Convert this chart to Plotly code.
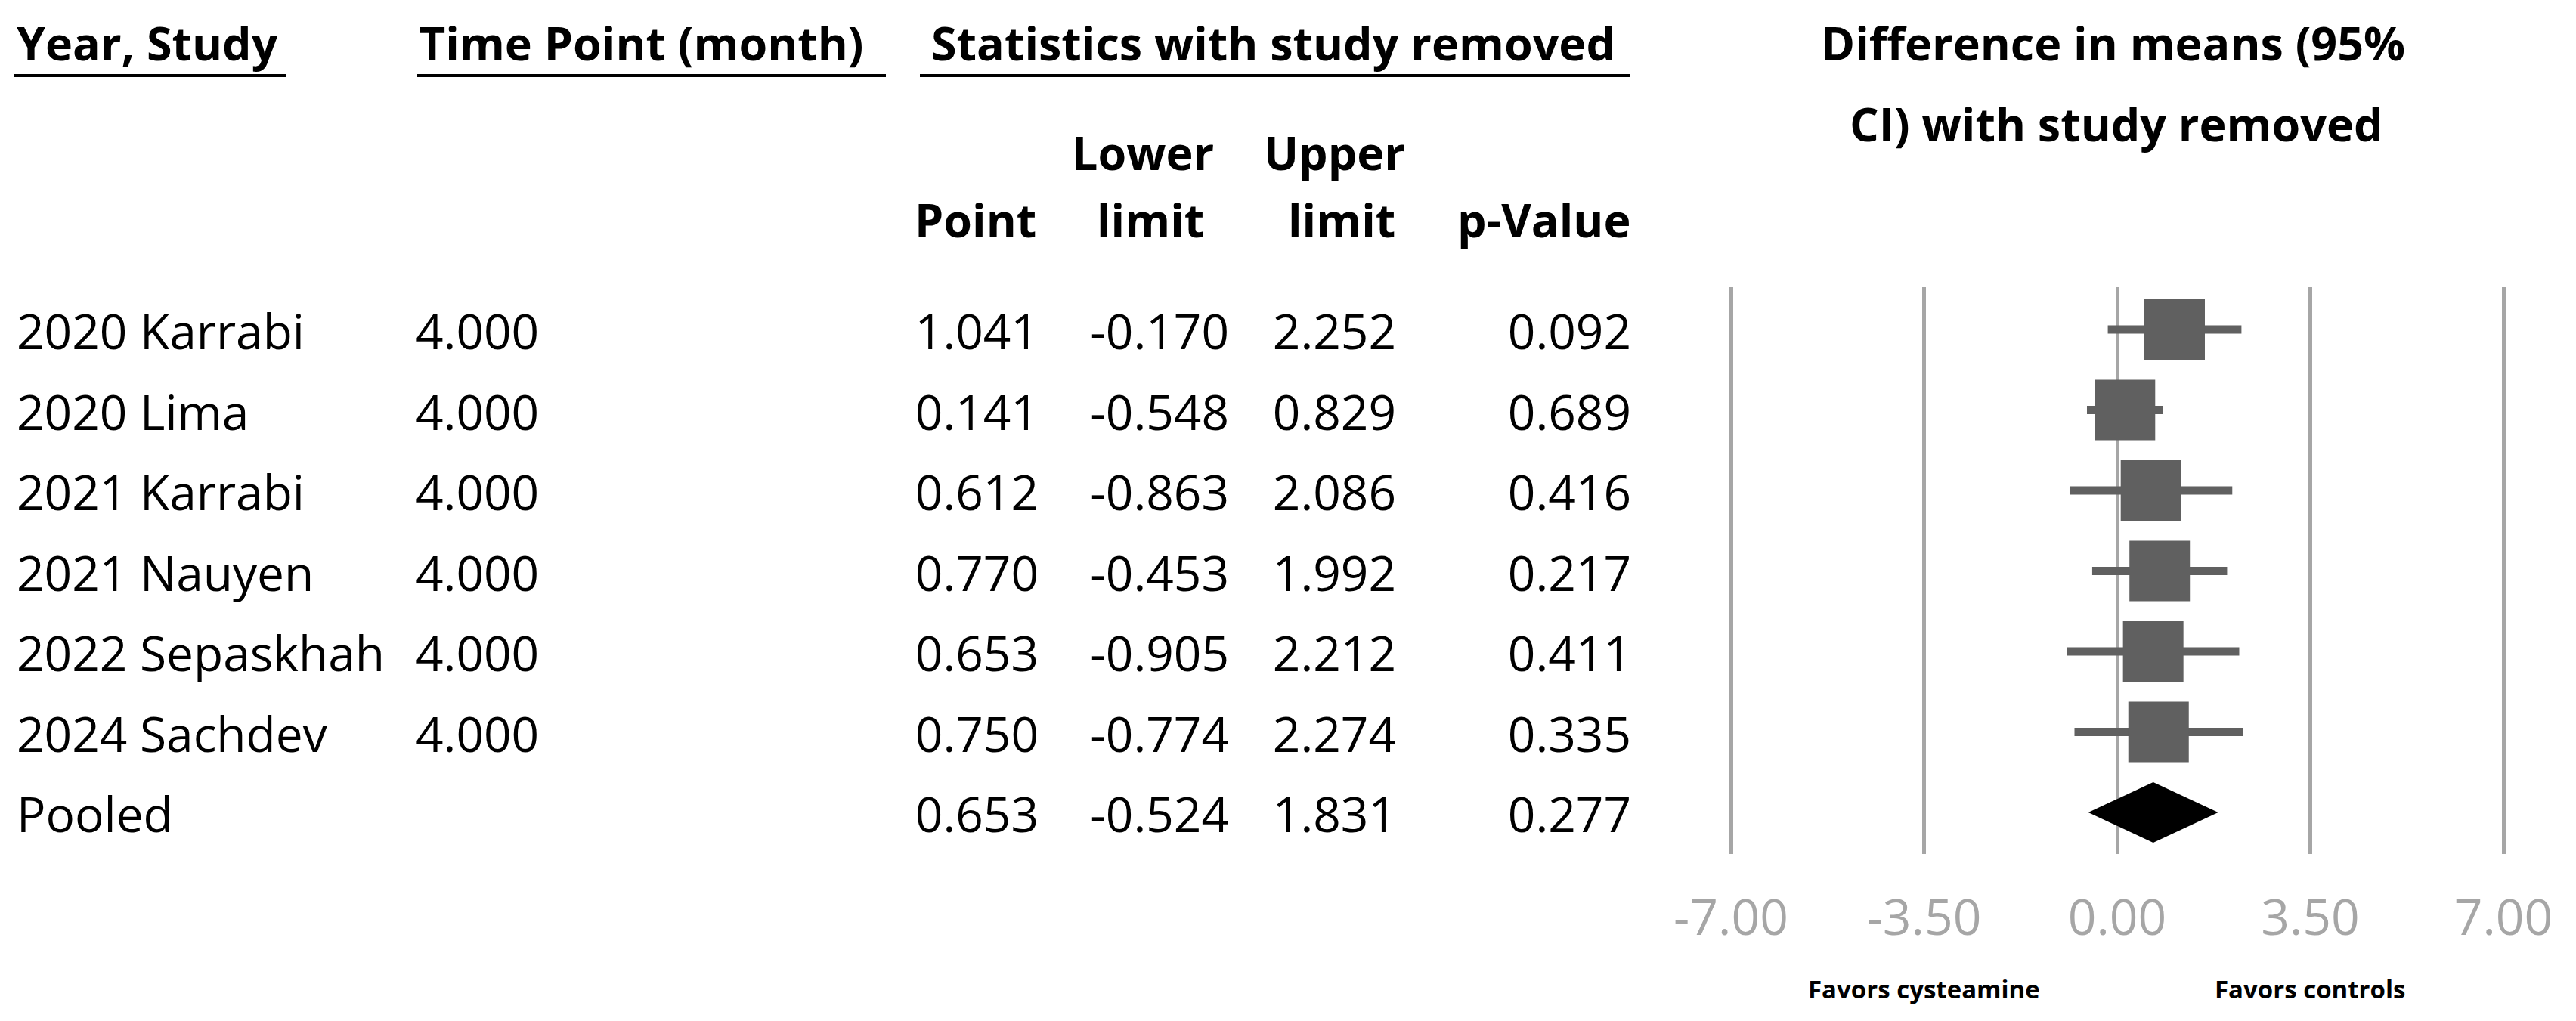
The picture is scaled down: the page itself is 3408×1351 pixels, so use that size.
import plotly.graph_objects as go

# ---------------- data ----------------
studies = ["2020 Karrabi", "2020 Lima", "2021 Karrabi", "2021 Nauyen",
           "2022 Sepaskhah", "2024 Sachdev", "Pooled"]
time_points = ["4.000", "4.000", "4.000", "4.000", "4.000", "4.000", ""]
point = [1.041, 0.141, 0.612, 0.770, 0.653, 0.750, 0.653]
lower = [-0.170, -0.548, -0.863, -0.453, -0.905, -0.774, -0.524]
upper = [2.252, 0.829, 2.086, 1.992, 2.212, 2.274, 1.831]
p_values = [0.092, 0.689, 0.416, 0.217, 0.411, 0.335, 0.277]
tick_vals = [-7.0, -3.5, 0.0, 3.5, 7.0]
tick_labels = ["-7.00", "-3.50", "0.00", "3.50", "7.00"]

# ---------------- layout geometry (pixels) ----------------
W, H = 3408, 1351
FONT = "Open Sans"
BODY = 64
HEAD = 61
GRID_C = "#a6a6a6"
BOX_C = "#606060"

def px_x(v):
    return v / W

def px_y(v):
    return 1 - v / H

n = len(studies)
rows = list(range(n))
study_rows = rows[:-1]
pooled_row = rows[-1]

row0_px, row_step = 436.0, 106.5
top_px, bot_px = 380.0, 1130.0
y_range = [(bot_px - row0_px) / row_step, -(row0_px - top_px) / row_step]
text_dy = 10.0 / row_step   # table text sits slightly lower than the boxes

gx0, gx1 = 2290.0, 3312.0
ppu = (gx1 - gx0) / (tick_vals[-1] - tick_vals[0])
pad_u = 0.2
x_range = [tick_vals[0] - pad_u, tick_vals[-1] + pad_u]
x_domain = [px_x(gx0 - pad_u * ppu), px_x(gx1 + pad_u * ppu)]

fig = go.Figure()

# ---------- forest plot marks ----------
ci_x, ci_y = [], []
for r in study_rows:
    ci_x += [lower[r], upper[r], None]
    ci_y += [r, r, None]
fig.add_trace(go.Scatter(x=ci_x, y=ci_y, mode="lines",
                         line=dict(color=BOX_C, width=11),
                         hoverinfo="skip", showlegend=False))
fig.add_trace(go.Scatter(x=[point[r] for r in study_rows], y=study_rows,
                         mode="markers",
                         marker=dict(symbol="square", size=80, color=BOX_C,
                                     line=dict(width=0)),
                         hoverinfo="skip", showlegend=False))
half_h = 0.375
r = pooled_row
fig.add_trace(go.Scatter(x=[lower[r], point[r], upper[r], point[r], lower[r]],
                         y=[r, r - half_h, r, r + half_h, r],
                         mode="lines", fill="toself", fillcolor="black",
                         line=dict(color="black", width=0),
                         hoverinfo="skip", showlegend=False))

# ---------- table cells (text traces on a full-width x axis) ----------
def text_col(xpos, texts, pos):
    fig.add_trace(go.Scatter(x=[xpos] * n, y=[rr + text_dy for rr in rows],
                             text=texts, mode="text",
                             textposition=pos, cliponaxis=False,
                             textfont=dict(family=FONT, size=BODY, color="black"),
                             xaxis="x2", yaxis="y",
                             hoverinfo="skip", showlegend=False))

text_col(22, studies, "middle right")
text_col(550, time_points, "middle right")
text_col(1374, [f"{v:.3f}" for v in point], "middle left")
text_col(1626, [f"{v:.3f}" for v in lower], "middle left")
text_col(1847, [f"{v:.3f}" for v in upper], "middle left")
text_col(2158, [f"{v:.3f}" for v in p_values], "middle left")

# ---------- headers ----------
def head(text, x, y, xanchor, size=HEAD, weight="bold"):
    fig.add_annotation(text=text, x=px_x(x), y=px_y(y), xref="paper", yref="paper",
                       xanchor=xanchor, yanchor="middle", showarrow=False,
                       font=dict(family=FONT, size=size, color="black", weight=weight))

head("Year, Study", 20, 56, "left")
head("Time Point (month)", 552, 56, "left")
head("Statistics with study removed", 1230, 56, "left")
head("Lower", 1512, 201, "center")
head("Upper", 1766, 201, "center")
head("Point", 1373, 290, "right")
head("limit", 1522, 290, "center")
head("limit", 1775, 290, "center")
head("p-Value", 2159, 290, "right")
head("Difference in means (95%", 2795, 56, "center")
head("CI) with study removed", 2800, 163, "center")

for x0, x1 in [(19, 379), (552, 1172), (1217, 2157)]:
    fig.add_shape(type="line", xref="paper", yref="paper",
                  x0=px_x(x0), x1=px_x(x1), y0=px_y(100), y1=px_y(100),
                  line=dict(color="black", width=4))

for xv, label in [(tick_vals[1], "Favors cysteamine"), (tick_vals[3], "Favors controls")]:
    fig.add_annotation(text=label, x=xv, xref="x", y=px_y(1308), yref="paper",
                       xanchor="center", yanchor="middle", showarrow=False,
                       font=dict(family=FONT, size=33, color="black", weight="bold"))

fig.update_layout(
    template="none",
    width=W, height=H, margin=dict(l=0, r=0, t=0, b=0, pad=0, autoexpand=False),
    paper_bgcolor="white", plot_bgcolor="rgba(0,0,0,0)",
    showlegend=False,
    xaxis=dict(domain=x_domain, range=x_range, tickvals=tick_vals, ticktext=tick_labels,
               showgrid=True, gridcolor=GRID_C, gridwidth=5, zeroline=False,
               showline=False, ticks="", ticklabelstandoff=40, automargin=False,
               tickfont=dict(family=FONT, size=66, color=GRID_C), fixedrange=True),
    xaxis2=dict(domain=[0, 1], range=[0, W], anchor="y", visible=False,
                automargin=False, fixedrange=True),
    yaxis=dict(domain=[px_y(bot_px), px_y(top_px)], range=y_range, visible=False,
               automargin=False, anchor="x", fixedrange=True),
)

post = (
    "document.documentElement.style.margin='0';"
    "document.body.style.margin='0';"
    "document.body.style.overflow='hidden';"
    "document.documentElement.style.overflow='hidden';"
)
fig.write_html("out.html", config={"displayModeBar": False}, post_script=post)
